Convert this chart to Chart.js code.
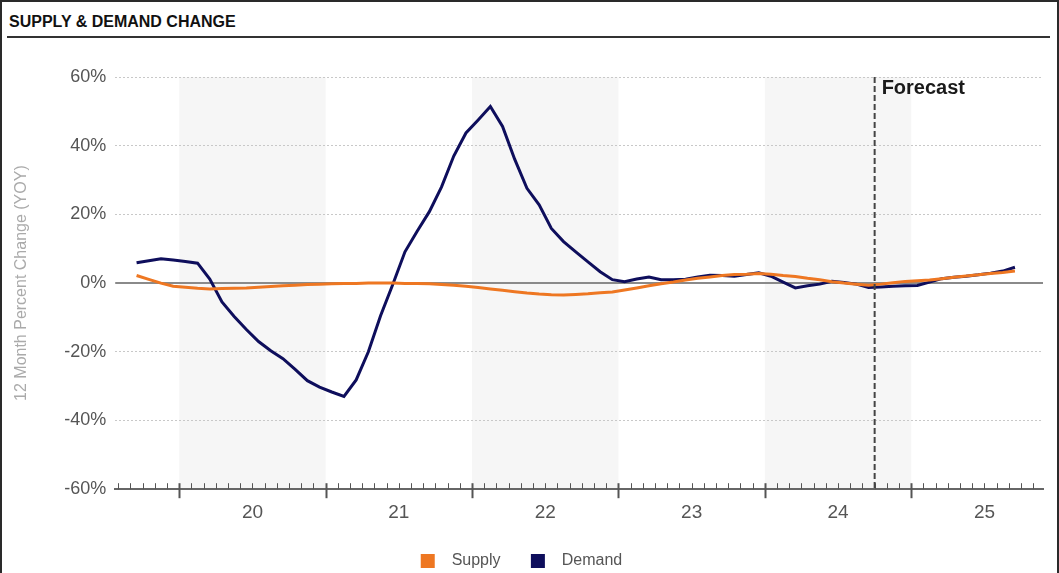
<!DOCTYPE html>
<html>
<head>
<meta charset="utf-8">
<script src="https://cdn.jsdelivr.net/npm/chart.js@4.4.1/dist/chart.umd.min.js"></script>
<style>
  html, body { margin: 0; padding: 0; background: #fff; }
  body { width: 1059px; height: 573px; overflow: hidden; position: relative; font-family: Arial, "Liberation Sans", sans-serif; }
  .frame { position: absolute; left: 0; top: 0; width: 1059px; height: 600px; box-sizing: border-box; border: 2px solid #2a2a2a; }
  .title { position: absolute; left: 9px; top: 13px; font-size: 16px; font-weight: bold; color: #111; }
  .rule { position: absolute; left: 7px; top: 36px; width: 1043px; height: 2px; background: #333; }
  .wrap { position: absolute; left: 0; top: 0; width: 1059px; height: 579px; }
</style>
</head>
<body>
<div class="frame"></div>
<div class="title">SUPPLY &amp; DEMAND CHANGE</div>
<div class="rule"></div>
<div class="wrap"><canvas id="chart"></canvas></div>
<script>
'use strict';

// months counted from Jan 2019 (0); first point is Sep 2019
const firstMonth = 8;
const supply = [2.2, 1.1, 0.0, -0.9, -1.2, -1.5, -1.7, -1.6, -1.5, -1.4,
  -1.2, -1.0, -0.8, -0.6, -0.4, -0.3, -0.2, -0.1, -0.1, 0.0,
  0.0, 0.0, -0.1, -0.1, -0.2, -0.4, -0.6, -0.9, -1.3, -1.7,
  -2.1, -2.5, -2.9, -3.2, -3.4, -3.5, -3.3, -3.1, -2.8, -2.6,
  -2.0, -1.4, -0.8, -0.2, 0.3, 0.9, 1.4, 1.8, 2.2, 2.5,
  2.6, 2.8, 2.6, 2.2, 1.9, 1.4, 1.0, 0.4, 0.0, -0.3,
  -0.6, -0.3, 0.1, 0.5, 0.7, 0.9, 1.3, 1.7, 2.1, 2.4,
  2.8, 3.1, 3.5];
const demand = [5.9, 6.5, 7.1, 6.7, 6.3, 5.8, 1.2, -5.5, -9.7, -13.5,
  -17.0, -19.7, -22.0, -25.1, -28.4, -30.3, -31.7, -33.0, -28.2, -20.0,
  -9.5, -0.4, 9.1, 15.1, 20.8, 28.0, 37.0, 43.7, 47.5, 51.4,
  45.6, 36.0, 27.6, 22.8, 15.9, 12.1, 9.1, 6.2, 3.3, 1.0,
  0.4, 1.2, 1.8, 1.0, 1.0, 1.1, 1.8, 2.3, 2.2, 2.0,
  2.5, 3.0, 2.0, 0.3, -1.4, -0.8, -0.3, 0.5, 0.2, -0.3,
  -1.3, -1.1, -0.9, -0.8, -0.7, 0.3, 1.3, 1.7, 2.0, 2.4,
  2.9, 3.5, 4.6];
const yearLabels = ['20', '21', '22', '23', '24', '25'];
const yearStarts = [12, 24, 36, 48, 60, 72];
const shadedYears = [12, 36, 60];
const forecastMonth = 69;
const yTicks = [-60, -40, -20, 0, 20, 40, 60];

const axisMin = 6.75;
const axisMax = 82.8;
const FONT = 'Arial, "Liberation Sans", sans-serif';

function toPoints(values) {
  return values.map((v, i) => ({ x: firstMonth + i + 0.5, y: v }));
}

const decorations = {
  id: 'decorations',
  beforeDraw(chart) {
    const { ctx, chartArea, scales } = chart;
    const x = scales.x;
    ctx.save();
    ctx.fillStyle = '#f6f6f6';
    shadedYears.forEach(m => {
      const x0 = x.getPixelForValue(m);
      const x1 = x.getPixelForValue(m + 12);
      ctx.fillRect(x0, chartArea.top, x1 - x0, chartArea.bottom - chartArea.top);
    });
    ctx.restore();
  },
  beforeDatasetsDraw(chart) {
    const { ctx, chartArea, scales } = chart;
    const y0 = scales.y.getPixelForValue(0);
    ctx.save();
    ctx.strokeStyle = '#8a8a8a';
    ctx.lineWidth = 2;
    ctx.beginPath();
    ctx.moveTo(chartArea.left, y0);
    ctx.lineTo(chartArea.right, y0);
    ctx.stroke();
    ctx.restore();
  },
  afterDatasetsDraw(chart) {
    const { ctx, chartArea, scales } = chart;
    const x = scales.x;
    const bottom = chartArea.bottom;
    ctx.save();
    // month ticks and year ticks along the x axis
    ctx.strokeStyle = '#555';
    for (let m = Math.ceil(axisMin); m <= axisMax; m++) {
      const px = Math.round(x.getPixelForValue(m)) + 0.5;
      ctx.beginPath();
      if (m % 12 === 0) {
        ctx.lineWidth = 2;
        ctx.moveTo(px, bottom - 6);
        ctx.lineTo(px, bottom + 9);
      } else {
        ctx.lineWidth = 1;
        ctx.moveTo(px, bottom - 6);
        ctx.lineTo(px, bottom);
      }
      ctx.stroke();
    }
    // forecast marker
    const fx = x.getPixelForValue(forecastMonth);
    ctx.strokeStyle = '#444';
    ctx.lineWidth = 2;
    ctx.setLineDash([6, 3]);
    ctx.beginPath();
    ctx.moveTo(fx, chartArea.top);
    ctx.lineTo(fx, bottom);
    ctx.stroke();
    ctx.setLineDash([]);
    ctx.fillStyle = '#1a1a1a';
    ctx.font = 'bold 20px ' + FONT;
    ctx.textBaseline = 'middle';
    ctx.fillText('Forecast', fx + 7, chartArea.top + 11);
    ctx.restore();
  }
};

new Chart(document.getElementById('chart'), {
  type: 'line',
  data: {
    datasets: [
      {
        label: 'Supply',
        data: toPoints(supply),
        borderColor: '#ee7722',
        backgroundColor: '#ee7722',
        borderWidth: 3,
        pointRadius: 0,
        tension: 0
      },
      {
        label: 'Demand',
        data: toPoints(demand),
        borderColor: '#0e0e5c',
        backgroundColor: '#0e0e5c',
        borderWidth: 3,
        pointRadius: 0,
        tension: 0
      }
    ]
  },
  options: {
    responsive: true,
    maintainAspectRatio: false,
    animation: false,
    layout: { padding: { left: 0, right: 16, top: 77, bottom: 0 } },
    plugins: {
      tooltip: { enabled: false },
      legend: {
        position: 'bottom',
        labels: {
          boxWidth: 14,
          boxHeight: 14,
          padding: 17,
          color: '#555',
          font: { size: 16, family: FONT },
          generateLabels(chart) {
            return chart.data.datasets.map((ds, i) => ({
              text: '  ' + ds.label + (i === 0 ? '   ' : ''),
              fillStyle: ds.borderColor,
              strokeStyle: ds.borderColor,
              lineWidth: 0,
              fontColor: '#555',
              datasetIndex: i
            }));
          }
        }
      }
    },
    scales: {
      x: {
        type: 'linear',
        min: axisMin,
        max: axisMax,
        afterBuildTicks(scale) {
          scale.ticks = yearStarts.map(m => ({ value: m + 6 }));
        },
        grid: { display: false, drawTicks: false },
        border: { display: true, color: '#666', width: 2 },
        ticks: {
          padding: 12,
          color: '#555',
          font: { size: 19, family: FONT },
          maxRotation: 0,
          autoSkip: false,
          callback(value) {
            const i = yearStarts.indexOf(value - 6);
            return i >= 0 ? yearLabels[i] : '';
          }
        }
      },
      y: {
        min: -60,
        max: 60,
        afterBuildTicks(scale) {
          scale.ticks = yTicks.map(v => ({ value: v }));
        },
        grid: {
          drawTicks: false,
          lineWidth: 1,
          color(ctx) {
            const v = ctx.tick ? ctx.tick.value : null;
            return (v === 0 || v === -60) ? 'rgba(0,0,0,0)' : '#c8c8c8';
          }
        },
        border: { display: false, dash: [2, 2] },
        ticks: {
          padding: 9,
          color: '#555',
          font: { size: 18, family: FONT },
          callback(value) { return value + '%'; }
        },
        title: {
          display: true,
          text: '12 Month Percent Change (YOY)',
          color: '#aaa',
          font: { size: 16, family: FONT },
          padding: { top: 12, bottom: 24 }
        }
      }
    }
  },
  plugins: [decorations]
});
</script>
</body>
</html>
